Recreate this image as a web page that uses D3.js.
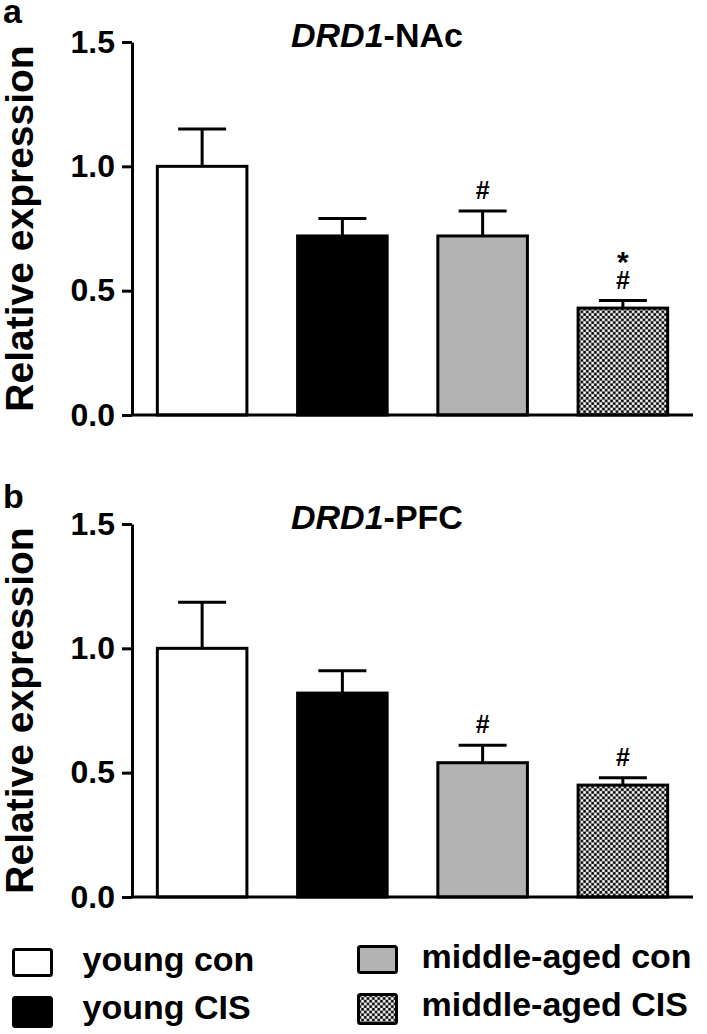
<!DOCTYPE html>
<html>
<head>
<meta charset="utf-8">
<script src="https://cdn.jsdelivr.net/npm/d3@7"></script>
<style>
  body { margin: 0; background: #fff; }
  svg { display: block; font-family: "Liberation Sans", Arial, sans-serif; font-weight: bold; }
</style>
</head>
<body>
<svg id="chart" width="707" height="1034"></svg>
<script>
// ---- data ----
const groups = ["young con", "young CIS", "middle-aged con", "middle-aged CIS"];
const nacMean = [1.0, 0.72, 0.72, 0.43];
const nacErr = [0.15, 0.07, 0.10, 0.03];
const nacHash = [false, false, true, true];
const nacStar = [false, false, false, true];
const pfcMean = [1.0, 0.82, 0.54, 0.45];
const pfcErr = [0.185, 0.09, 0.07, 0.03];
const pfcHash = [false, false, true, true];
const pfcStar = [false, false, false, false];
const yTicks = [0.0, 0.5, 1.0, 1.5];

const svg = d3.select("#chart");
const fills = ["#ffffff", "#000000", "#b3b3b3", "url(#checker)"];

// checker pattern for middle-aged CIS
const pat = svg.append("defs")
	.append("pattern")
	.attr("id", "checker")
	.attr("patternUnits", "userSpaceOnUse")
	.attr("width", 5.4)
	.attr("height", 5.4);
pat.append("rect").attr("width", 5.4).attr("height", 5.4).attr("fill", "#808080");
[[1.35, 1.35, "#000"], [4.05, 4.05, "#000"], [4.05, 1.35, "#fff"], [1.35, 4.05, "#fff"]]
	.forEach(([cx, cy, c]) => pat.append("circle").attr("cx", cx).attr("cy", cy).attr("r", 1.3).attr("fill", c));

const xScale = d3.scaleBand()
	.domain(groups)
	.range([132, 693])
	.paddingInner(0.34)
	.paddingOuter(0.17);

function drawPanel(opt) {
	let yScale = d3.scaleLinear().domain([0, 1.5]).range([opt.base, opt.top]);
	let g = svg.append("g");
	let mid = (d) => xScale(d) + xScale.bandwidth() / 2;

	// panel letter
	g.append("text")
		.attr("x", 3)
		.attr("y", opt.letterY)
		.attr("font-size", 34)
		.text(opt.letter);

	// title
	let t = g.append("text")
		.attr("x", 291)
		.attr("y", opt.top + 5)
		.attr("font-size", 34);
	t.append("tspan").attr("font-style", "italic").text("DRD1");
	t.append("tspan").text(opt.region);

	// y label
	g.append("text")
		.attr("transform", `translate(33, ${(opt.base + opt.top) / 2}) rotate(-90)`)
		.attr("text-anchor", "middle")
		.attr("font-size", 39)
		.text("Relative expression");

	// error bars (behind bars)
	let eb = g.append("g").selectAll("g")
		.data(groups)
		.join("g");
	eb.append("line")
		.attr("x1", mid)
		.attr("x2", mid)
		.attr("y1", (d, i) => yScale(opt.mean[i]))
		.attr("y2", (d, i) => yScale(opt.mean[i] + opt.err[i]))
		.attr("stroke", "#000")
		.attr("stroke-width", 3);
	eb.append("line")
		.attr("x1", (d) => mid(d) - 24)
		.attr("x2", (d) => mid(d) + 24)
		.attr("y1", (d, i) => yScale(opt.mean[i] + opt.err[i]))
		.attr("y2", (d, i) => yScale(opt.mean[i] + opt.err[i]))
		.attr("stroke", "#000")
		.attr("stroke-width", 3);

	// bars
	g.append("g").selectAll("rect")
		.data(groups)
		.join("rect")
		.attr("x", (d) => xScale(d) + 1.5)
		.attr("width", xScale.bandwidth() - 3)
		.attr("y", (d, i) => yScale(opt.mean[i]))
		.attr("height", (d, i) => yScale(0) - yScale(opt.mean[i]))
		.attr("fill", (d, i) => fills[i])
		.attr("stroke", "#000")
		.attr("stroke-width", 3);

	// significance marks: # vs young, * vs same-age control
	let hashY = (i) => yScale(opt.mean[i] + opt.err[i]) - 12;
	g.append("g").selectAll("text")
		.data(groups.filter((d, i) => opt.hash[i]))
		.join("text")
		.attr("x", mid)
		.attr("y", (d) => hashY(groups.indexOf(d)))
		.attr("text-anchor", "middle")
		.attr("font-size", 25)
		.text("#");
	g.append("g").selectAll("text")
		.data(groups.filter((d, i) => opt.star[i]))
		.join("text")
		.attr("x", mid)
		.attr("y", (d) => hashY(groups.indexOf(d)) - 17)
		.attr("text-anchor", "middle")
		.attr("font-size", 30)
		.text("*");

	// x axis line
	g.append("line")
		.attr("x1", 132)
		.attr("x2", 693)
		.attr("y1", yScale(0))
		.attr("y2", yScale(0))
		.attr("stroke", "#000")
		.attr("stroke-width", 3);

	// y axis
	let yAxis = d3.axisLeft(yScale)
		.tickValues(yTicks)
		.tickFormat(d3.format(".1f"))
		.tickSize(10)
		.tickSizeOuter(0)
		.tickPadding(7);
	let ax = g.append("g")
		.attr("transform", "translate(132, 0)")
		.call(yAxis);
	ax.select(".domain").attr("stroke-width", 3);
	ax.selectAll(".tick line").attr("stroke-width", 3);
	ax.selectAll(".tick text")
		.attr("font-size", 32)
		.attr("font-weight", "bold")
		.attr("font-family", "Liberation Sans, Arial, sans-serif")
		.attr("fill", "#000");
}

drawPanel({ letter: "a", letterY: 23, region: "-NAc", top: 42, base: 415, mean: nacMean, err: nacErr, hash: nacHash, star: nacStar });
drawPanel({ letter: "b", letterY: 508, region: "-PFC", top: 524, base: 897, mean: pfcMean, err: pfcErr, hash: pfcHash, star: pfcStar });

// legend
const legX = [13.5, 358.5];
const legY = [949.5, 997.5];
const leg = svg.append("g").selectAll("g")
	.data(groups)
	.join("g")
	.attr("transform", (d, i) => `translate(${legX[Math.floor(i / 2)]}, ${legY[i % 2] - (i >= 2 ? 3 : 0)})`);
leg.append("rect")
	.attr("width", 38)
	.attr("height", (d, i) => (i % 2 ? 29 : 26))
	.attr("rx", 2)
	.attr("fill", (d, i) => fills[i])
	.attr("stroke", "#000")
	.attr("stroke-width", 3);
leg.append("text")
	.attr("x", (d, i) => (i >= 2 ? 63 : 69))
	.attr("y", 21)
	.attr("font-size", 34)
	.text((d) => d);
</script>
</body>
</html>
